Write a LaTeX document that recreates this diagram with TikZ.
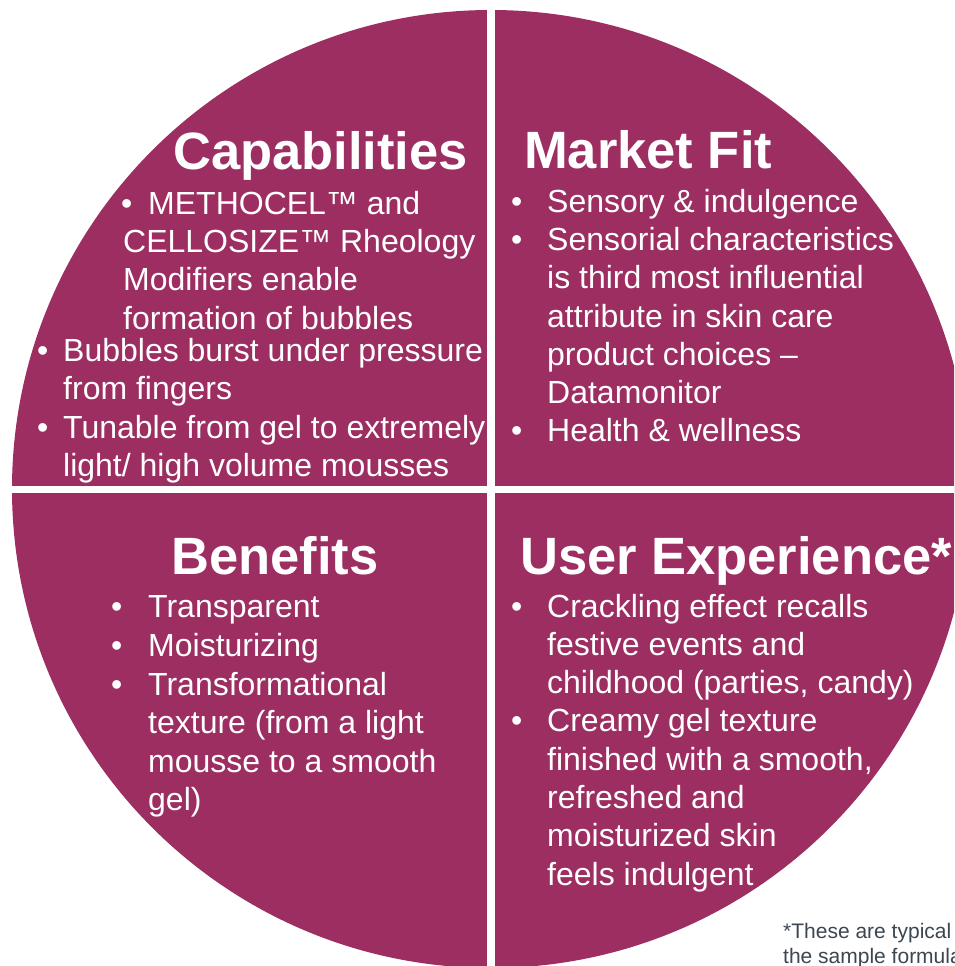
\documentclass[tikz,border=0pt]{standalone}
\usepackage{fontspec}
\setmainfont{Liberation Sans}
\usepackage{xcolor}
\usepackage{tikz}
\usetikzlibrary{positioning}

\definecolor{quadfill}{RGB}{157,46,97}
\definecolor{notegray}{RGB}{60,70,80}

\tikzset{
  head/.style={anchor=base west, inner sep=0pt, text=white, font=\fontsize{52.5}{60}\selectfont\bfseries},
  body/.style={anchor=base west, inner sep=0pt, text=white, font=\fontsize{32}{38}\selectfont},
  note/.style={anchor=base west, inner sep=0pt, text=notegray, font=\fontsize{21}{24}\selectfont}
}

\begin{document}
\begin{tikzpicture}[x=1pt,y=-1pt]
                \useasboundingbox (0,0) rectangle (954,966);
                \clip (0,0) rectangle (954,966);
                % Disc split in four quarters
                \fill[quadfill] (491,489) circle (479pt);
                \fill[white] (487,0) rectangle (495,966);
                \fill[white] (0,485.5) rectangle (954,493);
                % Capabilities
                \node[head] (cap) at (173,169) {Capabilities};
                \node[body] (cap-b1) at (121,214) {•};
                \node[body] (cap-t1) at (148,214) {METHOCEL™ and};
                \foreach \y/\t [count=\i] in {252/CELLOSIZE™ Rheology, 290/Modifiers enable, 329/formation of bubbles}
                    \node[body] (cap-c\i) at (123,\y) {\t};
                \node[body] (cap-b2) at (37,361) {•};
                \node[body] (cap-t2) at (63,361) {Bubbles burst under pressure};
                \node[body] (cap-c4) at (63,399) {from fingers};
                \node[body] (cap-b3) at (37,438) {•};
                \node[body] (cap-t3) at (63,438) {Tunable from gel to extremely};
                \node[body] (cap-c5) at (63,476) {light/ high volume mousses};
                % Market Fit
                \node[head] (fit) at (524,168) {Market Fit};
                \foreach \y [count=\i] in {212,250,441}
                    \node[body] (fit-b\i) at (511,\y) {•};
                \foreach \y/\t [count=\i] in {212/Sensory \& indulgence, 250/Sensorial characteristics, 288/is third most influential, 327/attribute in skin care, 365/product choices –, 403/Datamonitor, 441/Health \& wellness}
                    \node[body] (fit-t\i) at (547,\y) {\t};
                % Benefits
                \node[head] (ben) at (171,574) {Benefits};
                \foreach \y [count=\i] in {617,656,695}
                    \node[body] (ben-b\i) at (111,\y) {•};
                \foreach \y/\t [count=\i] in {617/Transparent, 656/Moisturizing, 695/Transformational, 733/texture (from a light, 772/mousse to a smooth, 810/gel)}
                    \node[body] (ben-t\i) at (148,\y) {\t};
                % User Experience
                \node[head] (use) at (520,574) {User Experience*};
                \foreach \y [count=\i] in {617,731}
                    \node[body] (use-b\i) at (511,\y) {•};
                \foreach \y/\t [count=\i] in {617/Crackling effect recalls, 655/festive events and, 693/{childhood (parties, candy)}, 731/Creamy gel texture, 770/{finished with a smooth,}, 808/refreshed and, 846/moisturized skin, 885/feels indulgent}
                    \node[body] (use-t\i) at (547,\y) {\t};
                % Footnote
                \node[note] (note1) at (783,938) {*These are typical};
                \node[note] (note2) at (783,963) {the sample formula};
            \end{tikzpicture}
\end{document}
